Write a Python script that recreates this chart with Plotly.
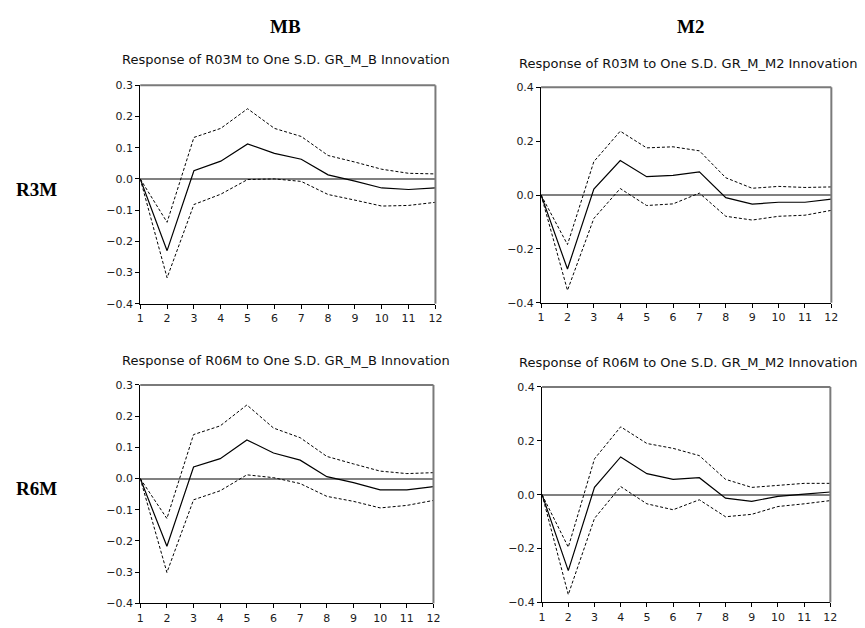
import plotly.graph_objects as go

# Impulse responses (point estimate with +/- 2 S.E. bands), periods 1..12
periods = list(range(1, 13))

r3m_mb_resp = [0, -0.230, 0.026, 0.057, 0.112, 0.082, 0.063, 0.013, -0.007, -0.029, -0.034, -0.029]
r3m_mb_upper = [0, -0.139, 0.133, 0.162, 0.225, 0.162, 0.136, 0.075, 0.054, 0.031, 0.018, 0.016]
r3m_mb_lower = [0, -0.317, -0.082, -0.049, -0.002, 0.000, -0.008, -0.050, -0.068, -0.087, -0.085, -0.075]

r3m_m2_resp = [0, -0.275, 0.022, 0.128, 0.068, 0.073, 0.086, -0.010, -0.034, -0.027, -0.027, -0.015]
r3m_m2_upper = [0, -0.184, 0.124, 0.237, 0.175, 0.179, 0.164, 0.064, 0.025, 0.032, 0.028, 0.030]
r3m_m2_lower = [0, -0.354, -0.087, 0.024, -0.039, -0.033, 0.007, -0.079, -0.093, -0.079, -0.075, -0.057]

r6m_mb_resp = [0, -0.217, 0.037, 0.064, 0.124, 0.082, 0.059, 0.006, -0.013, -0.036, -0.036, -0.026]
r6m_mb_upper = [0, -0.128, 0.141, 0.169, 0.236, 0.162, 0.131, 0.071, 0.047, 0.024, 0.016, 0.019]
r6m_mb_lower = [0, -0.301, -0.068, -0.039, 0.012, 0.003, -0.016, -0.057, -0.073, -0.094, -0.086, -0.070]

r6m_m2_resp = [0, -0.282, 0.027, 0.140, 0.078, 0.057, 0.063, -0.013, -0.025, -0.006, 0.002, 0.010]
r6m_m2_upper = [0, -0.195, 0.133, 0.252, 0.190, 0.172, 0.145, 0.057, 0.027, 0.035, 0.042, 0.042]
r6m_m2_lower = [0, -0.371, -0.088, 0.030, -0.034, -0.056, -0.019, -0.082, -0.073, -0.044, -0.034, -0.022]

panel_titles = [
    "Response of R03M to One S.D. GR_M_B Innovation",
    "Response of R03M to One S.D. GR_M_M2 Innovation",
    "Response of R06M to One S.D. GR_M_B Innovation",
    "Response of R06M to One S.D. GR_M_M2 Innovation",
]
column_labels = ["MB", "M2"]
row_labels = ["R3M", "R6M"]

W, H = 865, 628

panels = [
    dict(resp=r3m_mb_resp, up=r3m_mb_upper, lo=r3m_mb_lower, yr=[-0.4, 0.3], dt=0.1,
         box=(138, 437, 81, 304), title_xy=(286, 55)),
    dict(resp=r3m_m2_resp, up=r3m_m2_upper, lo=r3m_m2_lower, yr=[-0.4, 0.4], dt=0.2,
         box=(544, 838, 83, 303), title_xy=(693, 59)),
    dict(resp=r6m_mb_resp, up=r6m_mb_upper, lo=r6m_mb_lower, yr=[-0.4, 0.3], dt=0.1,
         box=(138, 435, 387, 610), title_xy=(286, 362)),
    dict(resp=r6m_m2_resp, up=r6m_m2_upper, lo=r6m_m2_lower, yr=[-0.4, 0.4], dt=0.2,
         box=(545, 837, 389, 609), title_xy=(693, 364)),
]

tick_font = dict(family="DejaVu Sans", size=11, color="#1a1a1a")
title_font = dict(family="DejaVu Sans", size=13, color="#111111")
label_font = dict(family="Liberation Serif", size=19, color="#000000")

fig = go.Figure()
layout = dict(
    width=W, height=H, autosize=False,
    margin=dict(l=0, r=0, t=0, b=0),
    paper_bgcolor="white", plot_bgcolor="white",
    showlegend=False,
)
annotations = []
shapes = []

for i, p in enumerate(panels):
    n = i + 1
    xa = "x" if n == 1 else f"x{n}"
    ya = "y" if n == 1 else f"y{n}"
    x0, x1, y0, y1 = p["box"]

    fig.add_trace(go.Scatter(x=periods, y=p["up"], mode="lines", xaxis=xa, yaxis=ya,
                             line=dict(color="black", width=1, dash="3px,2px")))
    fig.add_trace(go.Scatter(x=periods, y=p["lo"], mode="lines", xaxis=xa, yaxis=ya,
                             line=dict(color="black", width=1, dash="3px,2px")))
    fig.add_trace(go.Scatter(x=periods, y=p["resp"], mode="lines", xaxis=xa, yaxis=ya,
                             line=dict(color="black", width=1.2)))

    xkey = "xaxis" if n == 1 else f"xaxis{n}"
    ykey = "yaxis" if n == 1 else f"yaxis{n}"
    layout[xkey] = dict(
        domain=[x0 / W, x1 / W], anchor=ya, range=[1, 12],
        tickmode="array", tickvals=periods, ticktext=[str(v) for v in periods],
        ticks="outside", ticklen=4, tickcolor="black", tickwidth=1,
        showline=True, linecolor="black", linewidth=1,
        showgrid=False, zeroline=False, tickfont=tick_font, fixedrange=True,
    )
    layout[ykey] = dict(
        domain=[1 - y1 / H, 1 - y0 / H], anchor=xa, range=p["yr"],
        dtick=p["dt"], tick0=0, tickformat=".1f",
        ticks="outside", ticklen=4, tickcolor="black", tickwidth=1,
        showline=True, linecolor="black", linewidth=1,
        showgrid=False, zeroline=True, zerolinecolor="#808080", zerolinewidth=2,
        tickfont=tick_font, fixedrange=True,
    )
    # grey frame on the top and right sides of each panel
    shapes.append(dict(type="line", xref=f"{xa} domain", yref=f"{ya} domain",
                       x0=0, x1=1, y0=1, y1=1, line=dict(color="#7a7a7a", width=2)))
    shapes.append(dict(type="line", xref=f"{xa} domain", yref=f"{ya} domain",
                       x0=1, x1=1, y0=0, y1=1, line=dict(color="#7a7a7a", width=2)))

    tx, ty = p["title_xy"]
    annotations.append(dict(text=panel_titles[i], x=tx / W, y=1 - ty / H,
                            xref="paper", yref="paper", xanchor="center", yanchor="middle",
                            showarrow=False, font=title_font))

for lbl, cx in zip(column_labels, [285, 695]):
    annotations.append(dict(text=f"<b>{lbl}</b>", x=cx / W, y=1 - 21 / H,
                            xref="paper", yref="paper", xanchor="center", yanchor="middle",
                            showarrow=False, font=label_font))
for lbl, cy in zip(row_labels, [187, 493]):
    annotations.append(dict(text=f"<b>{lbl}</b>", x=33 / W, y=1 - cy / H,
                            xref="paper", yref="paper", xanchor="center", yanchor="middle",
                            showarrow=False, font=label_font))

layout["annotations"] = annotations
layout["shapes"] = shapes
fig.update_layout(**layout)

fig.write_html("out.html", config={"displayModeBar": False})
